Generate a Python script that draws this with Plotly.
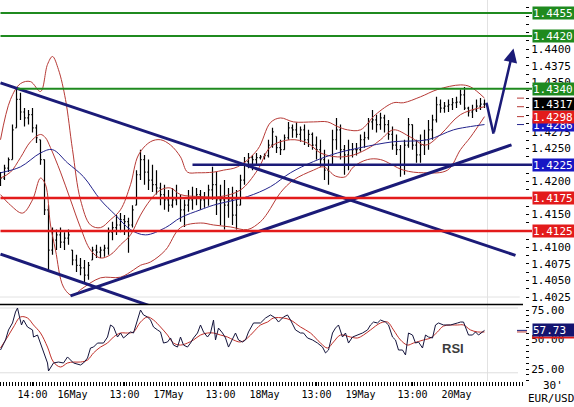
import plotly.graph_objects as go

# ---------------- DATA (x = hours from 16 May 00:00) ----------------
bar_hours = list(range(-18, 104))
bar_high = [1.4214, 1.4225, 1.4236, 1.4286, 1.4340, 1.4334, 1.4311, 1.4308, 1.4311, 1.4286,
            1.4263, 1.4233, 1.4164, 1.4130, 1.4127, 1.4130, 1.4123, 1.4127, 1.4096, 1.4089,
            1.4084, 1.4081, 1.4078, 1.4101, 1.4104, 1.4101, 1.4104, 1.4130, 1.4139, 1.4149,
            1.4152, 1.4149, 1.4145, 1.4164, 1.4217, 1.4248, 1.4240, 1.4233, 1.4225, 1.4217,
            1.4198, 1.4195, 1.4187, 1.4190, 1.4195, 1.4180, 1.4172, 1.4187, 1.4192, 1.4190,
            1.4187, 1.4184, 1.4195, 1.4222, 1.4214, 1.4195, 1.4202, 1.4190, 1.4192, 1.4187,
            1.4210, 1.4237, 1.4243, 1.4240, 1.4243, 1.4240, 1.4242, 1.4263, 1.4281, 1.4268,
            1.4263, 1.4271, 1.4290, 1.4286, 1.4289, 1.4283, 1.4286, 1.4278, 1.4274, 1.4268,
            1.4263, 1.4248, 1.4233, 1.4278, 1.4296, 1.4286, 1.4255, 1.4263, 1.4258, 1.4258,
            1.4271, 1.4275, 1.4296, 1.4308, 1.4301, 1.4304, 1.4301, 1.4293, 1.4283, 1.4271,
            1.4255, 1.4263, 1.4296, 1.4286, 1.4263, 1.4271, 1.4278, 1.4293, 1.4301, 1.4328,
            1.4324, 1.4320, 1.4324, 1.4326, 1.4328, 1.4339, 1.4343, 1.4313, 1.4316, 1.4324,
            1.4326, 1.4324]
bar_low = [1.4193, 1.4202, 1.4214, 1.4233, 1.4281, 1.4293, 1.4283, 1.4286, 1.4274, 1.4258,
           1.4225, 1.4149, 1.4066, 1.4089, 1.4096, 1.4099, 1.4096, 1.4104, 1.4073, 1.4063,
           1.4058, 1.4046, 1.4051, 1.4081, 1.4084, 1.4084, 1.4086, 1.4089, 1.4111, 1.4119,
           1.4123, 1.4119, 1.4092, 1.4130, 1.4164, 1.4202, 1.4195, 1.4187, 1.4184, 1.4180,
           1.4164, 1.4157, 1.4154, 1.4160, 1.4164, 1.4139, 1.4131, 1.4154, 1.4157, 1.4164,
           1.4157, 1.4160, 1.4163, 1.4172, 1.4149, 1.4134, 1.4127, 1.4145, 1.4134, 1.4127,
           1.4164, 1.4195, 1.4220, 1.4217, 1.4225, 1.4233, 1.4233, 1.4236, 1.4251, 1.4243,
           1.4240, 1.4248, 1.4263, 1.4266, 1.4266, 1.4260, 1.4255, 1.4252, 1.4248, 1.4233,
           1.4222, 1.4202, 1.4195, 1.4225, 1.4248, 1.4233, 1.4210, 1.4217, 1.4236, 1.4239,
           1.4245, 1.4251, 1.4263, 1.4278, 1.4274, 1.4278, 1.4274, 1.4263, 1.4248, 1.4240,
           1.4207, 1.4210, 1.4251, 1.4248, 1.4228, 1.4228, 1.4240, 1.4248, 1.4263, 1.4289,
           1.4304, 1.4304, 1.4305, 1.4308, 1.4311, 1.4316, 1.4308, 1.4298, 1.4296, 1.4305,
           1.4308, 1.4311]
bar_close = [1.4205, 1.4220, 1.4233, 1.4278, 1.4324, 1.4305, 1.4296, 1.4301, 1.4281, 1.4266,
             1.4233, 1.4157, 1.4096, 1.4111, 1.4119, 1.4108, 1.4114, 1.4119, 1.4081, 1.4073,
             1.4069, 1.4058, 1.4073, 1.4096, 1.4093, 1.4096, 1.4099, 1.4123, 1.4130, 1.4134,
             1.4142, 1.4139, 1.4134, 1.4157, 1.4210, 1.4233, 1.4214, 1.4202, 1.4195, 1.4190,
             1.4180, 1.4172, 1.4164, 1.4172, 1.4175, 1.4157, 1.4164, 1.4172, 1.4175, 1.4180,
             1.4172, 1.4175, 1.4187, 1.4195, 1.4172, 1.4172, 1.4164, 1.4172, 1.4149, 1.4164,
             1.4202, 1.4230, 1.4236, 1.4233, 1.4236, 1.4237, 1.4239, 1.4255, 1.4275, 1.4251,
             1.4248, 1.4266, 1.4281, 1.4278, 1.4271, 1.4278, 1.4263, 1.4271, 1.4255, 1.4248,
             1.4233, 1.4217, 1.4225, 1.4263, 1.4278, 1.4248, 1.4240, 1.4248, 1.4248, 1.4248,
             1.4263, 1.4266, 1.4290, 1.4293, 1.4286, 1.4296, 1.4286, 1.4271, 1.4255, 1.4248,
             1.4225, 1.4255, 1.4286, 1.4255, 1.4240, 1.4255, 1.4263, 1.4278, 1.4293, 1.4316,
             1.4311, 1.4314, 1.4316, 1.4319, 1.4320, 1.4331, 1.4311, 1.4305, 1.4308, 1.4314,
             1.4317, 1.4317]
first_open = 1.4198

upper_h = [-18, -15.5, -13, -10.5, -8, -6.25, -5, -3.5, -1.75, 0, 2, 4.5, 7, 9.5, 12, 14.5, 16.5,
           19.5, 22, 24.5, 27, 28.75, 31.25, 35.25, 37.75, 41.25, 46.25, 49.5, 52, 55.25, 60.25,
           63.75, 66.25, 68.75, 72, 75.75, 80.25, 82.75, 87, 91.25, 97, 99.5, 103]
upper_p = [1.4263, 1.4324, 1.4348, 1.4351, 1.4336, 1.4377, 1.4389, 1.4369, 1.4324, 1.4248,
           1.4172, 1.4134, 1.4130, 1.4142, 1.4157, 1.4195, 1.4240, 1.4260, 1.4263, 1.4255,
           1.4237, 1.4214, 1.4213, 1.4214, 1.4217, 1.4222, 1.4248, 1.4289, 1.4296, 1.4290,
           1.4290, 1.4290, 1.4283, 1.4278, 1.4278, 1.4301, 1.4319, 1.4319, 1.4328, 1.4339,
           1.4346, 1.4343, 1.4326]
mid_h = [-18, -15.5, -13, -10.5, -8, -6.75, -5.5, -3, -0.5, 2, 4.5, 7, 9.5, 12, 14.5, 17, 19.5,
         22, 24.5, 27, 32, 37, 42, 46.25, 49.5, 54.5, 58.75, 62, 66.25, 70.25, 74.5, 77, 80.25,
         84.5, 88.25, 92, 97, 103]
mid_p = [1.4205, 1.4214, 1.4236, 1.4260, 1.4271, 1.4266, 1.4251, 1.4214, 1.4172, 1.4130,
         1.4096, 1.4084, 1.4089, 1.4104, 1.4119, 1.4149, 1.4172, 1.4187, 1.4190, 1.4180,
         1.4177, 1.4177, 1.4187, 1.4217, 1.4252, 1.4263, 1.4258, 1.4243, 1.4237, 1.4240,
         1.4252, 1.4263, 1.4278, 1.4267, 1.4255, 1.4271, 1.4301, 1.4313]
lower_h = [-18, -15.5, -12.5, -10, -8, -6.75, -5.5, -4.25, -2.25, 0, 2, 7, 12, 15.25, 17, 19.5,
           23.25, 27, 32, 35.25, 39.5, 43.75, 47, 48.75, 52, 55.25, 60.25, 62.75, 65.75, 68.25,
           70.25, 73.75, 77, 82.75, 87.75, 93.75, 97, 99.5, 103]
lower_p = [1.4180, 1.4164, 1.4152, 1.4172, 1.4205, 1.4195, 1.4134, 1.4096, 1.4040, 1.4027,
           1.4036, 1.4054, 1.4055, 1.4066, 1.4073, 1.4078, 1.4096, 1.4130, 1.4137, 1.4134,
           1.4131, 1.4127, 1.4139, 1.4152, 1.4183, 1.4202, 1.4217, 1.4222, 1.4208, 1.4207,
           1.4222, 1.4233, 1.4233, 1.4217, 1.4213, 1.4217, 1.4248, 1.4267, 1.4298]
ma_h = [-18, -13, -8, -5, -1.25, 2.75, 7, 10.75, 14.5, 18.25, 23.25, 27, 32, 35.25, 43.75, 49.5,
        54.5, 60.25, 66.25, 72, 80.25, 88.75, 95.25, 99.5, 103]
ma_p = [1.4213, 1.4222, 1.4243, 1.4248, 1.4228, 1.4207, 1.4172, 1.4149, 1.4127, 1.4119, 1.4130,
        1.4145, 1.4157, 1.4164, 1.4177, 1.4192, 1.4213, 1.4230, 1.4243, 1.4251, 1.4260, 1.4263,
        1.4278, 1.4283, 1.4286]

rsi_h = [-18, -16.75, -16, -15, -14.25, -13.75, -13.25, -12.75, -12.25, -11.25, -10, -9.75, -8.75,
         -8, -7.25, -6.25, -6, -5.5, -4.75, -3.5, -2.25, -1.25, -0.5, 0.25, 2, 2.75, 3.75, 4.5,
         5.25, 6.25, 7.75, 8.75, 9.5, 10.25, 11.25, 12, 12.75, 13.75, 14.5, 15.25, 16.25, 17,
         17.75, 18.75, 19.5, 20.25, 21.25, 22, 22.75, 23.75, 24.5, 25.25, 26.25, 27, 27.75,
         28.75, 29.5, 30.25, 31.25, 32, 32.75, 33.75, 34.5, 35.25, 35.75, 36.5, 37.5, 38.25, 39,
         40, 40.75, 41.5, 42.5, 43.25, 44, 45.25, 47, 48.25, 49.5, 50.75, 51.5, 52.75, 53.75,
         54.5, 55.75, 57, 57.75, 58.75, 60, 61.25, 62.5, 63.25, 64, 65, 65.75, 66.5, 67.5, 68.25,
         69, 70, 71.25, 72.5, 73.75, 74.5, 75.25, 76.25, 77, 78.25, 79, 80, 80.75, 81.5, 82.5,
         83.25, 84, 85, 85.75, 86.5, 87.5, 88.25, 89, 90, 90.75, 91.5, 92.75, 94.5, 96.25, 97,
         97.75, 98.25, 99, 100, 100.75, 101.5, 102.5, 103]
rsi_v = [41.1, 49.6, 58.1, 64.0, 73.3, 76.7, 69.1, 62.3, 66.5, 60.6, 58.1, 52.1, 53.8, 47.0, 38.6,
         30.1, 23.3, 25.8, 30.1, 30.9, 30.1, 35.2, 32.6, 30.1, 28.4, 30.1, 34.3, 42.8, 43.6, 47.0,
         47.0, 52.1, 62.3, 60.6, 52.1, 55.5, 51.3, 53.8, 56.4, 55.5, 66.5, 75.0, 70.8, 69.1, 66.5,
         60.6, 58.1, 56.4, 47.0, 47.9, 51.3, 45.3, 43.6, 52.1, 45.3, 43.6, 47.0, 51.3, 55.5, 62.3,
         56.4, 52.1, 55.5, 66.5, 49.6, 59.7, 55.5, 51.3, 43.6, 51.3, 55.5, 49.6, 47.9, 49.6, 56.4,
         64.0, 64.0, 68.2, 70.8, 68.2, 64.8, 69.1, 70.8, 66.5, 58.1, 55.5, 55.5, 51.3, 49.6, 47.0,
         43.6, 38.6, 41.1, 55.5, 59.7, 62.3, 52.1, 55.5, 47.0, 52.1, 53.8, 55.5, 58.1, 62.3, 64.8,
         64.0, 66.5, 64.8, 62.3, 52.1, 49.6, 41.1, 41.1, 36.9, 55.5, 53.8, 47.0, 47.9, 42.8, 53.8,
         52.1, 51.3, 62.3, 64.0, 62.3, 62.3, 64.0, 64.8, 64.8, 60.6, 53.8, 53.8, 56.4, 53.8, 56.4,
         57.73]
sig_h = [-18, -16.25, -14.75, -13, -11.25, -9.75, -8, -6.25, -4.75, -3, -1.25, 0.25, 2, 3.75, 5.25,
         7, 8.75, 10.25, 12, 13.75, 15.25, 17, 18.75, 20.25, 22, 23.75, 25.25, 27, 28.75, 30.25,
         32, 33.75, 35.25, 37, 38.75, 40.25, 42, 43.75, 45.25, 47, 48.75, 50.25, 52.75, 54.5, 57,
         59.5, 62, 63.75, 65.25, 67, 69.5, 71.25, 72.75, 74.5, 77, 78.75, 80.25, 82, 83.75, 85.25,
         87.75, 89.5, 91.25, 92.75, 96.25, 97.75, 99.5, 101.25, 103]
sig_v = [42.8, 52.1, 60.6, 69.1, 68.2, 62.3, 55.5, 43.6, 30.9, 26.7, 30.1, 30.9, 30.9, 32.6, 38.6,
         43.6, 47.0, 52.1, 55.5, 55.5, 56.4, 64.8, 69.1, 66.5, 60.6, 53.8, 47.0, 45.3, 47.0, 49.6,
         53.8, 55.5, 55.5, 53.8, 52.1, 49.6, 47.9, 51.3, 56.4, 62.3, 64.8, 68.2, 68.2, 66.5, 60.6,
         55.5, 47.0, 42.8, 47.9, 53.8, 52.1, 51.3, 53.8, 58.1, 64.0, 64.8, 58.1, 49.6, 45.3, 47.0,
         49.6, 51.3, 56.4, 61.4, 62.3, 62.3, 58.1, 56.4, 56.4]

levels_green = [1.4455, 1.4420, 1.4340]
levels_green_start = [-18, -18, -13.75]
levels_red = [1.4175, 1.4125]
levels_red_start = [-18, -18]
levels_blue = [1.4225]
levels_blue_start = [30]

trend_down_h = [-18, 110.75]
trend_down_p = [1.4349, 1.4088]
trend_down2_h = [-18, 22]
trend_down2_p = [1.4090, 1.4006]
trend_up_h = [-0.5, 109.75]
trend_up_p = [1.40266, 1.42553]
arrow_h = [103.5, 105.25, 110.25]
arrow_p = [1.4319, 1.4272, 1.4401]

x_tick_vals = [-10, 0, 13, 24, 37, 48, 61, 72, 85, 96]
x_tick_text = ["14:00", "16May", "13:00", "17May", "13:00", "18May", "13:00", "19May", "13:00", "20May"]
price_ticks = [1.4025, 1.4050, 1.4075, 1.4100, 1.4125, 1.4150, 1.4175, 1.4200, 1.4225, 1.4250,
               1.4275, 1.4300, 1.4325, 1.4350, 1.4375, 1.4400, 1.4425, 1.4450]
rsi_tick_vals = [25, 50, 75]
rsi_grid = [76.7, 21.8]
last_bar_hour = 103.75

# ---------------- STYLE / LAYOUT ----------------
W, H = 574, 407
ML, MR, MT, MB = 0, 49, 0, 26
PW, PH = W - ML - MR, H - MT - MB
X0, X1 = -18.125, 113.125
MAIN_RANGE = [1.40144, 1.44745]
RSI_RANGE = [14.83, 79.24]
MAIN_DOM = [(PH - 304) / PH, 1]
RSI_DOM = [0, (PH - 305) / PH]
SEP_Y = (PH - 304.5) / PH
LABEL_X = 532 / PW

NAVY = "#1b1b78"
GREEN = "#1f8a1f"
RED = "#e31b1b"
BLUE = "#1717c4"
BAND = "#b73a36"
MA_BLUE = "#23238c"
MONO = "DejaVu Sans Mono"


def hpaper(h):
    return (h - X0) / (X1 - X0)


opens = []
prev = first_open
for hi, lo, c in zip(bar_high, bar_low, bar_close):
    opens.append(min(max(prev, lo), hi))
    prev = c

box_values = levels_green + levels_blue + levels_red + [ma_p[-1], lower_p[-1], bar_close[-1]]
price_text = ["" if any(abs(t - b) < 0.0009 for b in box_values) else "{:.4f}".format(t)
              for t in price_ticks]

fig = go.Figure()

for hh, pp, col in [(upper_h, upper_p, BAND), (mid_h, mid_p, BAND), (lower_h, lower_p, BAND),
                    (ma_h, ma_p, MA_BLUE)]:
    fig.add_trace(go.Scatter(x=hh, y=pp, mode="lines", line=dict(color=col, width=1, shape="spline"),
                             xaxis="x", yaxis="y", hoverinfo="skip"))

fig.add_trace(go.Ohlc(x=bar_hours, open=opens, high=bar_high, low=bar_low, close=bar_close,
                      increasing=dict(line=dict(color="black", width=1.2)),
                      decreasing=dict(line=dict(color="black", width=1.2)),
                      tickwidth=0.3, xaxis="x", yaxis="y"))

for hh, pp in [(trend_down_h, trend_down_p), (trend_down2_h, trend_down2_p), (trend_up_h, trend_up_p)]:
    fig.add_trace(go.Scatter(x=hh, y=pp, mode="lines", line=dict(color=NAVY, width=3),
                             xaxis="x", yaxis="y", hoverinfo="skip"))
fig.add_trace(go.Scatter(x=arrow_h[:2], y=arrow_p[:2], mode="lines", line=dict(color=NAVY, width=2.5),
                         xaxis="x", yaxis="y", hoverinfo="skip"))

fig.add_trace(go.Scatter(x=sig_h, y=sig_v, mode="lines", line=dict(color="#c0302a", width=1, shape="spline"),
                         xaxis="x2", yaxis="y2", hoverinfo="skip"))
fig.add_trace(go.Scatter(x=rsi_h, y=rsi_v, mode="lines", line=dict(color="#14143c", width=1),
                         xaxis="x2", yaxis="y2", hoverinfo="skip"))

shapes = []
shapes.append(dict(type="line", xref="x", yref="paper", x0=last_bar_hour, x1=last_bar_hour, y0=0, y1=1,
                   line=dict(color="#e2e2e2", width=1), layer="below"))
shapes.append(dict(type="line", xref="paper", yref="y", x0=0, x1=0.99, y0=1.4025, y1=1.4025,
                   line=dict(color="#e2e2e2", width=1), layer="below"))
for g in rsi_grid:
    shapes.append(dict(type="line", xref="paper", yref="y2", x0=0, x1=518 / PW, y0=g, y1=g,
                       line=dict(color="#dedede", width=1), layer="below"))
shapes.append(dict(type="line", xref="paper", yref="paper", x0=0, x1=523 / PW, y0=SEP_Y, y1=SEP_Y,
                   line=dict(color="black", width=1.5)))
for lv, st in zip(levels_green, levels_green_start):
    shapes.append(dict(type="line", xref="paper", yref="y", x0=hpaper(st), x1=LABEL_X, y0=lv, y1=lv,
                       line=dict(color=GREEN, width=2)))
for lv, st in zip(levels_red, levels_red_start):
    shapes.append(dict(type="line", xref="paper", yref="y", x0=hpaper(st), x1=LABEL_X, y0=lv, y1=lv,
                       line=dict(color=RED, width=2.5)))
for lv, st in zip(levels_blue, levels_blue_start):
    shapes.append(dict(type="line", xref="paper", yref="y", x0=hpaper(st), x1=LABEL_X, y0=lv, y1=lv,
                       line=dict(color=NAVY, width=2.5)))
for v, col in [(upper_p[-1], BAND), (mid_p[-1], BAND), (lower_p[-1], BAND), (ma_p[-1], MA_BLUE)]:
    shapes.append(dict(type="line", xref="paper", yref="y", x0=517 / PW, x1=524 / PW, y0=v, y1=v,
                       line=dict(color=col, width=1)))
for v, col in [(rsi_v[-1], NAVY), (sig_v[-1], BAND)]:
    shapes.append(dict(type="line", xref="paper", yref="y2", x0=517 / PW, x1=527 / PW, y0=v, y1=v,
                       line=dict(color=col, width=1)))
shapes.append(dict(type="line", xref="paper", yref="y2", x0=LABEL_X, x1=1.12, y0=rsi_v[-1] - 6.0,
                   y1=rsi_v[-1] - 6.0, line=dict(color=RED, width=2)))

annotations = []


def box(v, bg, yref="y", fmt="{:.4f}"):
    annotations.append(dict(x=LABEL_X, xref="paper", y=v, yref=yref, xanchor="left", yanchor="middle",
                            text=fmt.format(v), showarrow=False, align="left", width=46, height=12,
                            bgcolor=bg, borderpad=0, font=dict(family=MONO, size=11, color="white")))


for lv in levels_green:
    box(lv, GREEN)
box(levels_blue[0], BLUE)
for lv in levels_red:
    box(lv, RED)
box(ma_p[-1], BLUE)
box(lower_p[-1], RED)
box(bar_close[-1], "black")
box(rsi_v[-1], "#141470", yref="y2", fmt="{:.2f}")

annotations.append(dict(x=arrow_h[2], y=arrow_p[2], xref="x", yref="y", ax=arrow_h[1], ay=arrow_p[1],
                        axref="x", ayref="y", text="", showarrow=True, arrowhead=2, arrowsize=1.1,
                        arrowwidth=2.5, arrowcolor=NAVY, standoff=0, startstandoff=0))
annotations.append(dict(x=95, y=42.8, xref="x2", yref="y2", text="<b>RSI</b>", showarrow=False,
                        font=dict(family="Liberation Sans", size=13, color="#3c3c3c")))
annotations.append(dict(x=553 / PW, y=(PH - 386) / PH, xref="paper", yref="paper", text="30'",
                        showarrow=False, xanchor="center", yanchor="middle",
                        font=dict(family=MONO, size=11, color="black")))
annotations.append(dict(x=526 / PW, y=(PH - 398) / PH, xref="paper", yref="paper", text="EUR/USD",
                        showarrow=False, xanchor="left", yanchor="middle",
                        font=dict(family=MONO, size=11, color="black")))

fig.update_layout(
    width=W, height=H, margin=dict(l=ML, r=MR, t=MT, b=MB),
    paper_bgcolor="white", plot_bgcolor="white", showlegend=False,
    shapes=shapes, annotations=annotations,
    xaxis=dict(domain=[0, 1], anchor="y", range=[X0, X1], showticklabels=False, ticks="",
               showgrid=False, zeroline=False, showline=False, rangeslider=dict(visible=False)),
    xaxis2=dict(domain=[0, 1], anchor="y2", range=[X0, X1], matches="x", tickmode="array",
                tickvals=x_tick_vals, ticktext=x_tick_text, ticks="outside", ticklen=4,
                tickcolor="black", showgrid=False, zeroline=False, showline=False,
                tickfont=dict(family=MONO, size=10, color="black"),
                minor=dict(tickmode="linear", tick0=-18, dtick=0.75, ticks="outside", ticklen=4,
                           tickcolor="black")),
    yaxis=dict(domain=MAIN_DOM, anchor="x", side="right", range=MAIN_RANGE, tickmode="array",
               tickvals=price_ticks, ticktext=price_text, ticks="outside", ticklen=3,
               tickcolor="black", showgrid=False, zeroline=False, showline=False,
               tickfont=dict(family=MONO, size=11, color="black"),
               minor=dict(tickmode="linear", tick0=1.4025, dtick=0.00125, ticks="outside", ticklen=3,
                          tickcolor="black")),
    yaxis2=dict(domain=RSI_DOM, anchor="x2", side="right", range=RSI_RANGE, tickmode="array",
                tickvals=rsi_tick_vals, ticktext=["{:.2f}".format(v) for v in rsi_tick_vals],
                ticks="outside", ticklen=3, tickcolor="black", showgrid=False, zeroline=False,
                showline=False, tickfont=dict(family=MONO, size=11, color="black"),
                minor=dict(tickmode="linear", tick0=0, dtick=5, ticks="outside", ticklen=3,
                           tickcolor="black")),
)

fig.write_html("out.html")
